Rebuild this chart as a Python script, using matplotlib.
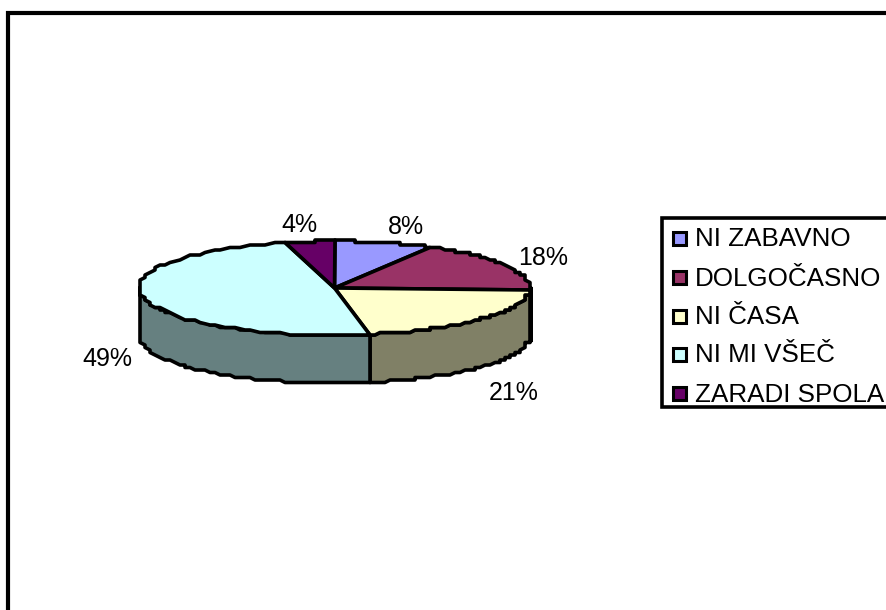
import numpy as np
import matplotlib
matplotlib.use("Agg")
import matplotlib.pyplot as plt
from matplotlib.patches import Polygon, Rectangle

categories = ["NI ZABAVNO", "DOLGOČASNO", "NI ČASA", "NI MI VŠEČ", "ZARADI SPOLA"]
values = [8, 18, 21, 49, 4]
pct_labels = ["8%", "18%", "21%", "49%", "4%"]
top_colors = ["#9999FF", "#993366", "#FFFFCC", "#CCFFFF", "#660066"]
side_colors = ["#4C4C80", "#000000", "#808066", "#668080", "#330033"]
label_xy = [(406, 227), (543, 258), (514, 392.5), (107, 359), (299, 225.5)]

CX, CY, RX, RY, DEPTH = 334.5, 288, 195, 47, 48
LW = 2.6

plt.rcParams["font.family"] = ["Liberation Sans", "DejaVu Sans"]
fig = plt.figure(figsize=(8.87, 6.10), dpi=100)
ax = fig.add_axes([0, 0, 1, 1])
ax.set_xlim(0, 887)
ax.set_ylim(610, 0)
ax.axis("off")

ax.add_patch(Rectangle((8.5, 12.5), 900, 620, fc="white", ec="black", lw=LW + 0.4))


def rim(t0, t1, dy=0.0):
    t = np.radians(np.linspace(t0, t1, 60))
    x = CX + RX * np.sin(t)
    y = CY + dy - RY * np.cos(t)
    # the source is a coarse raster: its outline steps in small stairs
    return np.column_stack([np.round(x / 5) * 5, np.round(y / 2.5) * 2.5])


angles = np.concatenate([[0], np.cumsum(values)]) * 3.6

# front wall
for i in range(len(values)):
    a0, a1 = max(angles[i], 90), min(angles[i + 1], 270)
    if a1 > a0:
        upper = rim(a0, a1)
        lower = rim(a0, a1, DEPTH)[::-1]
        ax.add_patch(Polygon(np.vstack([upper, lower]), closed=True,
                             fc=side_colors[i], ec="black",
                             lw=3.5 if side_colors[i] == "#000000" else LW,
                             joinstyle="round"))

# top face
for i in range(len(values)):
    pts = np.vstack([[[CX, CY]], rim(angles[i], angles[i + 1])])
    ax.add_patch(Polygon(pts, closed=True, fc=top_colors[i], ec="black",
                         lw=LW, joinstyle="round"))

for s, (x, y) in zip(pct_labels, label_xy):
    ax.text(x, y, s, fontsize=18, ha="center", va="center", color="black")

# legend
ax.add_patch(Rectangle((662.5, 217.5), 260, 189, fc="white", ec="black", lw=LW))
leg_y = [238, 277.5, 316, 354, 393]
for name, c, y in zip(categories, top_colors, leg_y):
    ax.add_patch(Rectangle((673, y - 6.5), 13, 13, fc=c, ec="black", lw=2.2))
    ax.text(695, y + 1.5, name, fontsize=18.7, ha="left", va="center", color="black")

fig.savefig("out.png", dpi=100)
